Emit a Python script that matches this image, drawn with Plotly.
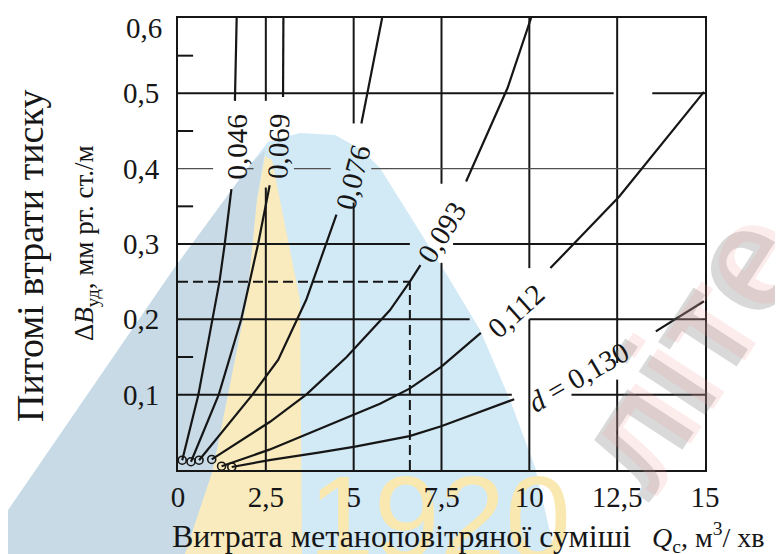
import plotly.graph_objects as go

# ---------------- data ----------------
diam_labels = ["0,046", "0,069", "0,076", "0,093", "0,112", "d = 0,130"]

q_046_low = [0.12, 0.58, 0.98, 1.18, 1.33, 1.52]
b_046_low = [0.013, 0.10, 0.20, 0.25, 0.30, 0.373]
q_046_up = [1.62, 1.67]
b_046_up = [0.49, 0.60]

q_069_low = [0.37, 1.16, 1.80, 2.00, 2.28, 2.61]
b_069_low = [0.011, 0.10, 0.20, 0.24, 0.30, 0.378]
q_069_up = [2.99, 3.00]
b_069_up = [0.495, 0.60]

q_076_low = [0.60, 2.12, 2.85, 3.42, 3.65, 3.85, 4.51]
b_076_low = [0.013, 0.10, 0.146, 0.2035, 0.226, 0.252, 0.339]
q_076_up = [5.22, 5.81]
b_076_up = [0.46, 0.60]

q_093_low = [0.96, 2.62, 3.65, 4.80, 6.03, 6.60, 6.90]
b_093_low = [0.014, 0.064, 0.10, 0.15, 0.212, 0.25, 0.272]
q_093_up = [8.20, 9.38, 10.05]
b_093_up = [0.383, 0.507, 0.60]

q_112_low = [1.24, 2.60, 3.80, 5.04, 5.75, 6.59, 7.49, 8.62]
b_112_low = [0.005, 0.027, 0.050, 0.074, 0.088, 0.108, 0.137, 0.182]
q_112_up = [10.60, 12.56, 14.97]
b_112_up = [0.268, 0.363, 0.502]

q_130_low = [1.53, 2.60, 4.00, 5.04, 6.59, 7.49, 9.57]
b_130_low = [0.004, 0.013, 0.023, 0.031, 0.045, 0.058, 0.094]
q_130_up = [13.60, 14.97]
b_130_up = [0.184, 0.224]

x_ticks = [0, 2.5, 5, 7.5, 10, 12.5, 15]
x_ticktext = ["0", "2,5", "5", "7,5", "10", "12,5", "15"]
y_ticks = [0.1, 0.2, 0.3, 0.4, 0.5]
y_ticktext = ["0,1", "0,2", "0,3", "0,4", "0,5"]
y_top_label = "0,6"          # printed just below the top frame line

# example operating point (dashed guide)
q_point = 6.6
b_point = 0.25

curves = [
    (q_046_low, b_046_low, q_046_up, b_046_up),
    (q_069_low, b_069_low, q_069_up, b_069_up),
    (q_076_low, b_076_low, q_076_up, b_076_up),
    (q_093_low, b_093_low, q_093_up, b_093_up),
    (q_112_low, b_112_low, q_112_up, b_112_up),
    (q_130_low, b_130_low, q_130_up, b_130_up),
]

# ---------------- layout geometry ----------------
W, H = 783, 554
OFF = 8                      # page body offset of the figure
SL, ST, SR, SB = 178, 18, 705, 470   # plot box on screen
PW, PH = SR - SL, SB - ST


def px(xp):
    return (xp - SL) / PW


def py(yp):
    return (SB - yp) / PH


SERIF = "Liberation Serif, Times New Roman, serif"
SANS = "Liberation Sans, Arial, sans-serif"
INK = "#161616"

fig = go.Figure()

# watermark digits hanging below the frame (drawn under axes and curves)
fig.add_trace(go.Scatter(
    x=[7.45], y=[0.0], mode="text", text=["1920"], textposition="bottom center",
    cliponaxis=False, textfont=dict(family=SANS, size=118, color="#f9e8b0"),
    showlegend=False, hoverinfo="skip"))

for (ql, bl, qu, bu), name in zip(curves, diam_labels):
    fig.add_trace(go.Scatter(
        x=ql + [None] + qu, y=bl + [None] + bu, mode="lines",
        line=dict(color=INK, width=2.2), name=name, showlegend=False,
        hoverinfo="skip"))

fig.add_trace(go.Scatter(
    x=[c[0][0] for c in curves], y=[c[1][0] for c in curves], mode="markers",
    marker=dict(symbol="circle-open", size=8, color=INK, line=dict(width=1.6)),
    showlegend=False, hoverinfo="skip"))

shapes = []


def wm_path(points, color):
    d = "M " + " L ".join(f"{px(a):.4f},{py(b):.4f}" for a, b in points) + " Z"
    shapes.append(dict(type="path", path=d, xref="paper", yref="paper",
                       fillcolor=color, line=dict(width=0), layer="below"))


# watermark background shapes
wm_path([(0, 522), (173, 270), (250, 165), (268, 142), (300, 133), (335, 135),
         (362, 150), (380, 168), (447, 275), (480, 330), (510, 400), (535, 467),
         (555, 554), (0, 554)], "#d2e9f6")
wm_path([(0, 522), (173, 270), (250, 165), (265, 150), (257, 200), (247, 300),
         (213, 470), (185, 554), (0, 554)], "#c7dae6")
wm_path([(265, 156), (272, 160), (280, 200), (300, 300), (302, 554), (185, 554),
         (213, 470), (247, 300), (257, 200)], "#f9ebbd")


def seg(x0, y0, x1, y1, width=2.0, color=INK, dash=None):
    line = dict(color=color, width=width)
    if dash:
        line["dash"] = dash
    shapes.append(dict(type="line", x0=x0, y0=y0, x1=x1, y1=y1,
                       xref="x", yref="y", line=line, layer="below"))


# grid (broken where the figure labels sit)
for x0, ya, yb in [(2.5, 0, 0.375), (2.5, 0.49, 0.6), (5, 0, 0.355), (5, 0.46, 0.6),
                   (7.5, 0, 0.275), (7.5, 0.38, 0.6), (10, 0, 0.2), (10, 0.268, 0.6),
                   (12.5, 0, 0.12), (12.5, 0.142, 0.6)]:
    seg(x0, ya, x0, yb)
for y0, xa, xb in [(0.1, 0, 9.5), (0.1, 11.2, 15), (0.2, 0, 8.3), (0.2, 10, 15),
                   (0.3, 0, 6.6), (0.3, 7.83, 15), (0.5, 0, 12.4), (0.5, 13.5, 15)]:
    seg(xa, y0, xb, y0)
for xa, xb in [(0, 1.0), (1.95, 2.15), (3.3, 4.35), (5.5, 15)]:
    seg(xa, 0.4, xb, 0.4, width=1.3, color="#505050")
# short inner ticks on the left axis
for yt in [0.15, 0.35, 0.45, 0.55]:
    seg(0, yt, 0.43, yt)
# dashed guide lines
seg(0, b_point, q_point, b_point, dash="10px,5px")
seg(q_point, 0, q_point, b_point, dash="10px,5px")

annotations = [
    # faint publisher watermark (shadow + tint)
    dict(x=px(684), y=py(352), xref="paper", yref="paper", text="<b>літе</b>",
         xanchor="center", yanchor="middle", showarrow=False, textangle=-57,
         font=dict(family=SANS, size=150, color="rgba(120,120,120,0.28)")),
    dict(x=px(692), y=py(346), xref="paper", yref="paper", text="<b>літе</b>",
         xanchor="center", yanchor="middle", showarrow=False, textangle=-57,
         font=dict(family=SANS, size=150, color="rgba(240,150,150,0.18)")),
]
label_pos = [(1.68, 0.428, -90), (2.85, 0.429, -88), (4.98, 0.389, -75),
             (7.51, 0.316, -58), (9.62, 0.211, -42), (11.39, 0.124, -30)]
for text, (xa, ya, ang) in zip(diam_labels, label_pos):
    if text.startswith("d"):
        text = "<i>d</i> = 0,130"
    annotations.append(dict(x=xa, y=ya, xref="x", yref="y", text=text, showarrow=False,
                            xanchor="center", yanchor="middle",
                            textangle=ang, font=dict(family=SERIF, size=29, color=INK)))

annotations += [
    dict(x=px(164), y=py(28), xref="paper", yref="paper", text=y_top_label,
         xanchor="right", yanchor="middle", showarrow=False,
         font=dict(family=SERIF, size=29, color=INK)),
    dict(x=px(30), y=py(256), xref="paper", yref="paper", text="Питомі втрати тиску",
         xanchor="center", yanchor="middle",
         showarrow=False, textangle=-90, font=dict(family=SERIF, size=38, color=INK)),
    dict(x=px(86), y=py(243), xref="paper", yref="paper",
         text="Δ<i>B</i><sub>уд</sub>, мм рт. ст./м", xanchor="center", yanchor="middle",
         showarrow=False, textangle=-90, font=dict(family=SERIF, size=27, color=INK)),
    dict(x=px(170), y=py(536), xref="paper", yref="paper", xanchor="left", yanchor="middle",
         text="Витрата метаноповітряної суміші",
         showarrow=False, font=dict(family=SERIF, size=32, color=INK)),
    dict(x=px(650), y=py(537), xref="paper", yref="paper", xanchor="left", yanchor="middle",
         text="<i>Q</i><sub>с</sub>, м<sup>3</sup>/ хв",
         showarrow=False, font=dict(family=SERIF, size=28, color=INK)),
]

axis_common = dict(showgrid=False, zeroline=False, showline=True, linecolor=INK,
                   linewidth=2, mirror=True, ticks="outside", automargin=False,
                   ticklabeloverflow="allow",
                   tickcolor="rgba(0,0,0,0)", tickfont=dict(family=SERIF, size=29, color=INK))

fig.update_layout(
    template="none",
    width=W, height=H,
    margin=dict(l=SL - OFF, r=W - SR + OFF, t=ST - OFF, b=H - SB + OFF, pad=0),
    paper_bgcolor="white", plot_bgcolor="rgba(0,0,0,0)",
    xaxis=dict(range=[0, 15], tickvals=x_ticks, ticktext=x_ticktext, ticklen=0,
               **axis_common),
    yaxis=dict(range=[0, 0.6], tickvals=y_ticks, ticktext=y_ticktext, ticklen=11,
               **axis_common),
    shapes=shapes, annotations=annotations, showlegend=False,
)

fig.write_html("out.html")
